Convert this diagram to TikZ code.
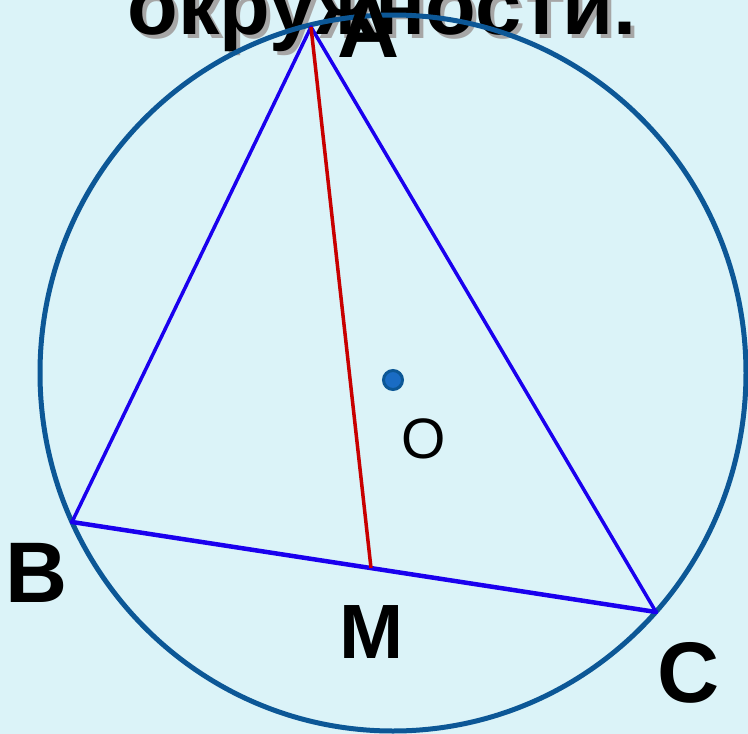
\documentclass[tikz,border=0pt]{standalone}
\usepackage{fontspec}
\setmainfont{Liberation Sans}
\begin{document}
\begin{tikzpicture}[x=1pt,y=-1pt,
  lbl/.style={anchor=base,inner sep=0pt,font=\fontsize{86}{86}\selectfont\bfseries},
  side/.style={draw=triblue,line width=3.5pt,line cap=round,line join=round},
  med/.style={draw=medred,line width=3.5pt}]
\definecolor{bg}{HTML}{DBF3F8}
\definecolor{circblue}{HTML}{0C5796}
\definecolor{triblue}{HTML}{1A00EE}
\definecolor{medred}{HTML}{C80000}
\definecolor{dotblue}{HTML}{1A6CC4}
\fill[bg] (0,0) rectangle (748,734);
\useasboundingbox (0,0) rectangle (748,734);
% title with shadow
\node[anchor=base,inner sep=0pt,text=black!35,font=\fontsize{83}{83}\selectfont\bfseries] (titleshadow) at (386,38) {окружности.};
\node[anchor=base,inner sep=0pt,font=\fontsize{83}{83}\selectfont\bfseries] (title) at (382,34) {окружности.};
% circle
\coordinate (O) at (393,373);
\draw[circblue,line width=5pt] (O) ellipse [x radius=353, y radius=358];
% points
\coordinate (A) at (311,27);
\coordinate (B) at (72,522);
\coordinate (C) at (656,612);
\coordinate (M) at (371,568);
\draw[side] (A) -- (B);
\draw[side] (A) -- (C);
\draw[side,line width=4.5pt] (B) -- (C);
\draw[med] (A) -- (M);
% center dot
\node[circle,fill=dotblue,draw=circblue,line width=3pt,minimum size=19pt,inner sep=0pt] (dot) at (393,380) {};
% labels
\node[lbl] (la) at (369,57) {А};
\node[lbl] (lb) at (37,602) {В};
\node[lbl] (lc) at (689,702) {С};
\node[lbl,font=\fontsize{77}{77}\selectfont\bfseries] (lm) at (372,658) {М};
\node[anchor=base,inner sep=0pt,font=\fontsize{57}{57}\selectfont] (lo) at (424,458) {О};
\end{tikzpicture}
\end{document}
